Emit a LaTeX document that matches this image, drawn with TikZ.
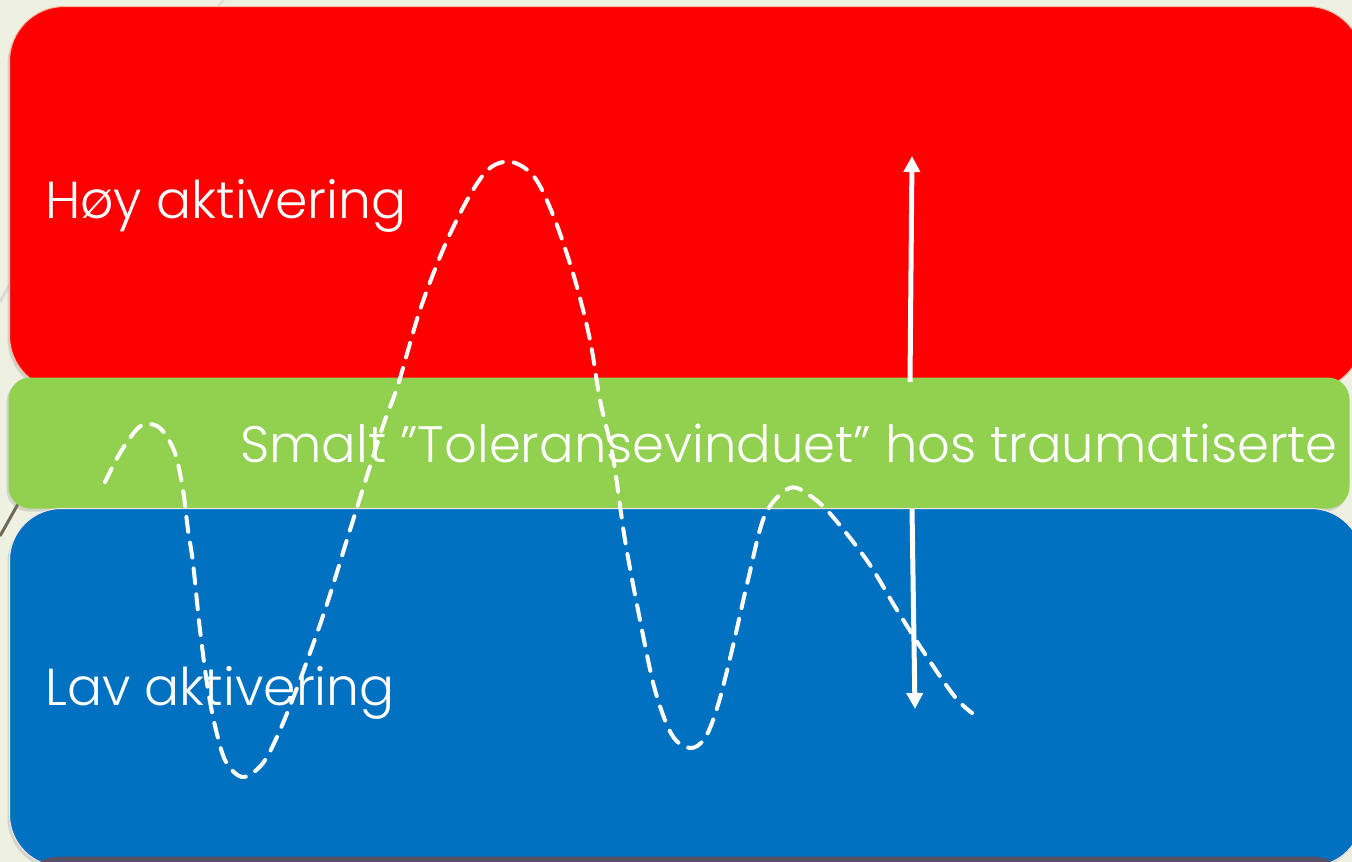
\documentclass[tikz,border=0pt]{standalone}
\usepackage{fontspec}
\setmainfont{Poppins}[UprightFont=* Light]
\usepackage{tikz}
\usetikzlibrary{shadows,positioning,arrows.meta}
\definecolor{slidebg}{HTML}{EEF0E2}
\definecolor{highred}{HTML}{FF0000}
\definecolor{windowgreen}{HTML}{92D050}
\definecolor{lowblue}{HTML}{0070C0}
\definecolor{edgesalmon}{HTML}{F4B8A0}
\definecolor{bottomshade}{HTML}{575066}
\definecolor{decogray}{HTML}{6E6856}

\begin{document}
\begin{tikzpicture}[
			x=1pt, y=-1pt,
			band/.style={
					rectangle, anchor=north west, inner sep=0pt, draw=edgesalmon, line width=1pt,
					drop shadow={opacity=0.25, shadow xshift=-2pt, shadow yshift=-3pt}
				},
			bandtext/.style={
					anchor=base west, inner sep=0pt, text=white, font=\fontsize{52}{57}\selectfont
				},
			wave/.style={
					draw=white, line width=4pt, dash pattern=on 15pt off 11pt, line cap=round
				},
			arrowline/.style={
					draw=white, line width=5pt, -{Triangle[length=16pt,width=16pt]}
				},
			decoline/.style={line width=3pt, decogray}
		]

		% slide background
		\fill[slidebg] (0,0) rectangle (1352,862);
		\useasboundingbox (0,0) rectangle (1352,862);
		\draw[decoline] (0,536) -- (18,504);
		\draw[decoline, decogray!25] (0,302) -- (10,284);
		\draw[decoline, decogray!25, line width=1.5pt] (218,6) -- (224,0);

		% the three bands
		\node[band, fill=highred, minimum width=1353pt, minimum height=384pt, rounded corners=55pt] (high) at (9,6) {};
		\node[band, fill=windowgreen, draw=none, minimum width=1341pt, minimum height=131pt, rounded corners=22pt] (window) at (8,377) {};
		\node[band, fill=lowblue, draw=white!70!edgesalmon, minimum width=1353pt, minimum height=358pt, rounded corners=52pt,
			path picture={\fill[bottomshade] ([yshift=10pt]path picture bounding box.south west) rectangle (path picture bounding box.south east);}
		] (low) at (9,508) {};

		% labels
		\node[bandtext] (hightext) at (45,218) {Høy aktivering};
		\node[bandtext, font=\fontsize{51.2}{56}\selectfont] (windowtext) at (240,462) {Smalt ”Toleransevinduet” hos traumatiserte};
		\node[bandtext] (lowtext) at (45,705) {Lav aktivering};

		% activation curve
		\draw[wave] plot[smooth, tension=0.55] coordinates {
				(105,482) (120,453) (138,428) (150,424) (162,430) (175,453) (183,490) (188,530)
				(193,563) (200,630) (208,690) (216,730) (226,762) (243,777) (263,763) (280,730)
				(300,680) (325,610) (350,530) (372,460) (385,420) (398,385) (420,310) (445,245)
				(470,195) (490,168) (512,162) (535,178) (555,220) (575,280) (590,340) (600,400)
				(613,457) (625,540) (640,620) (655,690) (672,735) (690,748) (705,738) (718,705)
				(732,650) (748,580) (765,515) (790,488) (812,497) (833,517) (868,562) (897,610)
				(927,657) (955,697) (972,713)
			};

		% arrows out of the window
		\coordinate (upfoot) at (910,382);
		\coordinate (uptip) at (912,156);
		\coordinate (downfoot) at (912,509);
		\coordinate (downtip) at (915,709);
		\draw[arrowline] (upfoot) -- (uptip);
		\draw[arrowline] (downfoot) -- (downtip);

	\end{tikzpicture}
\end{document}
